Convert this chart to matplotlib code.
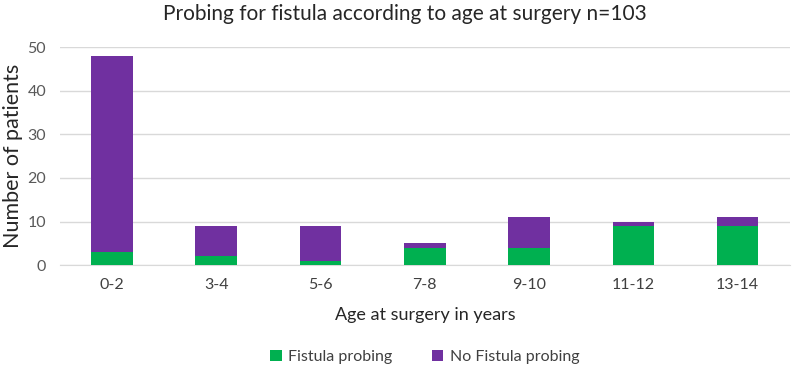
import numpy as np
import matplotlib
matplotlib.use("Agg")
import matplotlib.pyplot as plt

plt.rcParams['font.family'] = ['Lato', 'DejaVu Sans']

ages = ['0-2', '3-4', '5-6', '7-8', '9-10', '11-12', '13-14']
fistula = [3, 2, 1, 4, 4, 9, 9]
no_fistula = [45, 7, 8, 1, 7, 1, 2]

green = '#00B050'
purple = '#7030A0'
grey = '#595959'

fig = plt.figure(figsize=(8.1, 3.74), dpi=100)
ax = fig.add_axes([0.074, 0.291, 0.901, 0.583])

x = np.arange(len(ages))
ax.bar(x, fistula, width=0.4, color=green, label='Fistula probing', zorder=3)
ax.bar(x, no_fistula, width=0.4, bottom=fistula, color=purple,
       label='No Fistula probing', zorder=3)

ax.set_xlim(-0.5, len(ages) - 0.5)
ax.set_ylim(0, 50)
ax.set_yticks(range(0, 51, 10))
ax.set_xticks(x)
ax.set_xticklabels(ages)
ax.grid(axis='y', color='#D9D9D9', linewidth=1, zorder=0)
for s in ['top', 'right', 'left']:
    ax.spines[s].set_visible(False)
ax.spines['bottom'].set_color('#D9D9D9')
ax.tick_params(axis='both', length=0, labelsize=11.5, colors=grey)
ax.tick_params(axis='x', pad=9, labelcolor='#404040')
ax.tick_params(axis='y', pad=10)

ax.set_xlabel('Age at surgery in years', fontsize=13, color='#262626', labelpad=11)
ax.set_ylabel('Number of patients', fontsize=15.5, color='#262626')
ax.yaxis.set_label_coords(-0.05, 0.5)
fig.suptitle('Probing for fistula according to age at surgery n=103',
             fontsize=15, color='#262626', y=0.99)

ax.legend(loc='center', bbox_to_anchor=(0.5, -0.42), ncol=2, frameon=False,
          fontsize=11.5, handlelength=0.7, handleheight=0.7, columnspacing=2.5,
          handletextpad=0.4, labelcolor='#404040')

fig.savefig('out.png', dpi=100)
